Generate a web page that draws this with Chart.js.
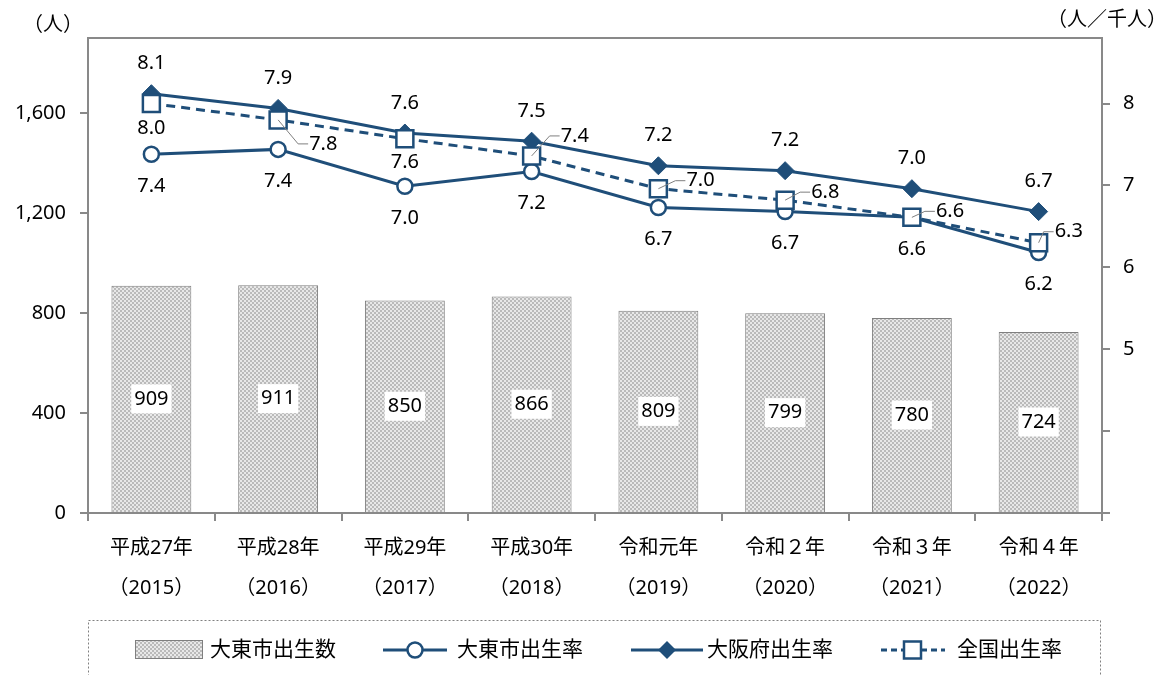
<!DOCTYPE html>
<html><head><meta charset="utf-8">
<script src="https://cdn.jsdelivr.net/npm/chart.js@4.4.1/dist/chart.umd.min.js"></script>
<style>html,body{margin:0;padding:0;background:#fff}#wrap{width:1166px;height:675px;position:relative}</style>
</head><body><div id="wrap"><canvas id="c" width="1166" height="675"></canvas></div>
<script>
// ---- data ----
const yearLabels = ['平成27年','平成28年','平成29年','平成30年','令和元年','令和２年','令和３年','令和４年'];
const yearNumbers = ['（2015）','（2016）','（2017）','（2018）','（2019）','（2020）','（2021）','（2022）'];
const birthCount = [909, 911, 850, 866, 809, 799, 780, 724];
const daitoRate = [7.38, 7.44, 6.99, 7.17, 6.73, 6.68, 6.61, 6.18];
const osakaRate = [8.12, 7.94, 7.64, 7.54, 7.24, 7.18, 6.96, 6.68];
const nationalRate = [8.0, 7.80, 7.57, 7.36, 6.96, 6.82, 6.61, 6.30];
const leftTicks = [0, 400, 800, 1200, 1600];
const rightTicks = [3, 4, 5, 6, 7, 8];
const rightLabeled = [5, 6, 7, 8];
const seriesNames = ['大東市出生数', '大東市出生率', '大阪府出生率', '全国出生率'];
const leftUnit = '（人）';
const rightUnit = '（人／千人）';

// ---- label placement for 全国出生率 (style) ----
const natPlace = [
  {dx:0, dy:25, leader:false},
  {dx:31, dy:24, leader:true},
  {dx:0, dy:24, leader:false},
  {dx:29, dy:-20, leader:true},
  {dx:28, dy:-8, leader:true},
  {dx:26, dy:-8, leader:true},
  {dx:24, dy:-6, leader:true},
  {dx:16, dy:-11, leader:true}
];

const LINE = '#1F4E79';
const AXIS = '#898989';
const FONT = '"Noto Sans", "Noto Sans CJK JP", sans-serif';
const FS = 20;

const canvas = document.getElementById('c');
const ctx = canvas.getContext('2d');

function makePattern(c) {
  const p = document.createElement('canvas');
  p.width = 4; p.height = 4;
  const g = p.getContext('2d');
  g.fillStyle = '#bababa'; g.fillRect(0,0,4,4);
  g.fillStyle = '#e8e8e8'; g.fillRect(0,0,2,2); g.fillRect(2,2,2,2);
  return c.createPattern(p, 'repeat');
}
const pattern = makePattern(ctx);

function fmt1(v){ return (Math.round(v*10)/10).toFixed(1); }

const labelPlugin = {
  id: 'labels',
  afterDatasetsDraw(chart) {
    const c = chart.ctx;
    c.save();
    c.font = FS + 'px ' + FONT;
    c.textBaseline = 'middle';
    const barMeta = chart.getDatasetMeta(0);
    barMeta.data.forEach((el, i) => {
      const t = String(birthCount[i]);
      const w = c.measureText(t).width;
      const cy = (el.y + el.base) / 2;
      c.fillStyle = '#fff';
      c.fillRect(el.x - w/2 - 3, cy - 14.5, w + 6, 29);
      c.fillStyle = '#000';
      c.textAlign = 'center';
      c.fillText(t, el.x, cy);
    });
    chart.getDatasetMeta(1).data.forEach((el, i) => {
      c.textAlign = 'center'; c.fillStyle = '#000';
      c.fillText(fmt1(daitoRate[i]), el.x, el.y + 32);
    });
    chart.getDatasetMeta(2).data.forEach((el, i) => {
      c.textAlign = 'center'; c.fillStyle = '#000';
      c.fillText(fmt1(osakaRate[i]), el.x, el.y - 30);
    });
    chart.getDatasetMeta(3).data.forEach((el, i) => {
      const p = natPlace[i];
      const t = fmt1(nationalRate[i]);
      if (!p.leader) {
        c.textAlign = 'center'; c.fillStyle = '#000';
        c.fillText(t, el.x + p.dx, el.y + p.dy);
      } else {
        const tx = el.x + p.dx, ty = el.y + p.dy;
        c.strokeStyle = '#7f7f7f'; c.lineWidth = 1;
        c.beginPath();
        c.moveTo(el.x, el.y);
        c.lineTo(tx - 11, ty);
        c.lineTo(tx - 1, ty);
        c.stroke();
        c.textAlign = 'left'; c.fillStyle = '#000';
        c.fillText(t, tx, ty);
      }
    });
    c.restore();
  },
  afterDraw(chart) {
    const c = chart.ctx;
    const a = chart.chartArea;
    c.save();
    c.strokeStyle = AXIS; c.lineWidth = 2;
    c.beginPath(); c.moveTo(a.left - 1, a.top); c.lineTo(a.right + 1, a.top); c.stroke();
    c.fillStyle = '#000';
    c.font = FS + 'px ' + FONT;
    c.textBaseline = 'middle'; c.textAlign = 'center';
    c.fillText(leftUnit, 53, 25);
    c.fillText(rightUnit, 1107, 20);
    // legend box
    c.setLineDash([2,2]);
    c.strokeStyle = '#808080'; c.lineWidth = 1;
    c.strokeRect(88.5, 620.5, 1012, 60);
    c.setLineDash([]);
    const ly = 650;
    c.fillStyle = pattern;
    c.fillRect(135, 640, 67, 18);
    c.strokeStyle = '#7f7f7f'; c.lineWidth = 1;
    c.strokeRect(135.5, 640.5, 67, 18);
    c.fillStyle = '#000'; c.textAlign = 'left';
    c.font = '21px ' + FONT;
    c.fillText(seriesNames[0], 210, ly);
    c.strokeStyle = LINE; c.lineWidth = 3;
    c.beginPath(); c.moveTo(383, ly); c.lineTo(447, ly); c.stroke();
    c.beginPath(); c.arc(415, ly, 7.5, 0, Math.PI*2);
    c.fillStyle = '#fff'; c.fill(); c.lineWidth = 2.5; c.stroke();
    c.fillStyle = '#000';
    c.fillText(seriesNames[1], 457, ly);
    c.lineWidth = 3;
    c.beginPath(); c.moveTo(631, ly); c.lineTo(703, ly); c.stroke();
    c.beginPath(); c.moveTo(667, ly-9); c.lineTo(676, ly); c.lineTo(667, ly+9); c.lineTo(658, ly); c.closePath();
    c.fillStyle = LINE; c.fill();
    c.fillStyle = '#000';
    c.fillText(seriesNames[2], 707, ly);
    c.lineWidth = 3; c.setLineDash([6,4]);
    c.beginPath(); c.moveTo(881, ly); c.lineTo(945, ly); c.stroke();
    c.setLineDash([]);
    c.fillStyle = '#fff'; c.fillRect(904, ly-8.5, 17, 17);
    c.lineWidth = 2.5; c.strokeRect(904, ly-8.5, 17, 17);
    c.fillStyle = '#000';
    c.fillText(seriesNames[3], 957, ly);
    c.restore();
  }
};

new Chart(ctx, {
  data: {
    labels: yearLabels.map((l, i) => [l, yearNumbers[i]]),
    datasets: [
      {type:'bar', label:seriesNames[0], data:birthCount, yAxisID:'y',
       backgroundColor:pattern, borderColor:'#7f7f7f', borderWidth:1,
       barPercentage:0.63, categoryPercentage:1, order:4},
      {type:'line', label:seriesNames[1], data:daitoRate, yAxisID:'y2',
       borderColor:LINE, borderWidth:3, pointStyle:'circle', pointRadius:7.5,
       pointBackgroundColor:'#fff', pointBorderColor:LINE, pointBorderWidth:2.5, order:3},
      {type:'line', label:seriesNames[2], data:osakaRate, yAxisID:'y2',
       borderColor:LINE, borderWidth:3, pointStyle:'rectRot', pointRadius:9,
       pointBackgroundColor:LINE, pointBorderColor:LINE, pointBorderWidth:1, order:2},
      {type:'line', label:seriesNames[3], data:nationalRate, yAxisID:'y2',
       borderColor:LINE, borderWidth:3, borderDash:[9,6], pointStyle:'rect', pointRadius:12,
       pointBackgroundColor:'#fff', pointBorderColor:LINE, pointBorderWidth:2.5, order:1}
    ]
  },
  options: {
    responsive:false, animation:false, devicePixelRatio:1,
    layout:{padding:{top:38, left:0, right:0, bottom:0}},
    plugins:{legend:{display:false}, tooltip:{enabled:false}},
    scales:{
      x:{
        grid:{offset:true, drawOnChartArea:false, drawTicks:true, tickLength:8, color:AXIS, lineWidth:2},
        border:{color:AXIS, width:2},
        ticks:{color:'#000', font:{family:FONT, size:FS, lineHeight:2}, padding:7, maxRotation:0, autoSkip:false},
        afterFit(s){ s.height = 162; }
      },
      y:{
        position:'left', min:0, max:1900,
        afterBuildTicks(s){ s.ticks = leftTicks.map(v => ({value:v})); },
        grid:{drawOnChartArea:false, tickLength:8, color:AXIS, lineWidth:2},
        border:{color:AXIS, width:2},
        ticks:{color:'#000', font:{family:FONT, size:FS}, padding:14,
               callback:(v) => Number(v).toLocaleString('en-US')},
        afterFit(s){ s.width = 88; }
      },
      y2:{
        position:'right', min:3, max:8.8,
        afterBuildTicks(s){ s.ticks = rightTicks.map(v => ({value:v})); },
        grid:{drawOnChartArea:false, tickLength:8, color:AXIS, lineWidth:2},
        border:{color:AXIS, width:2},
        ticks:{color:'#000', font:{family:FONT, size:FS}, padding:13,
               callback:(v) => rightLabeled.includes(v) ? String(v) : ''},
        afterFit(s){ s.width = 64; }
      }
    }
  },
  plugins:[labelPlugin]
});
</script>
</body></html>
